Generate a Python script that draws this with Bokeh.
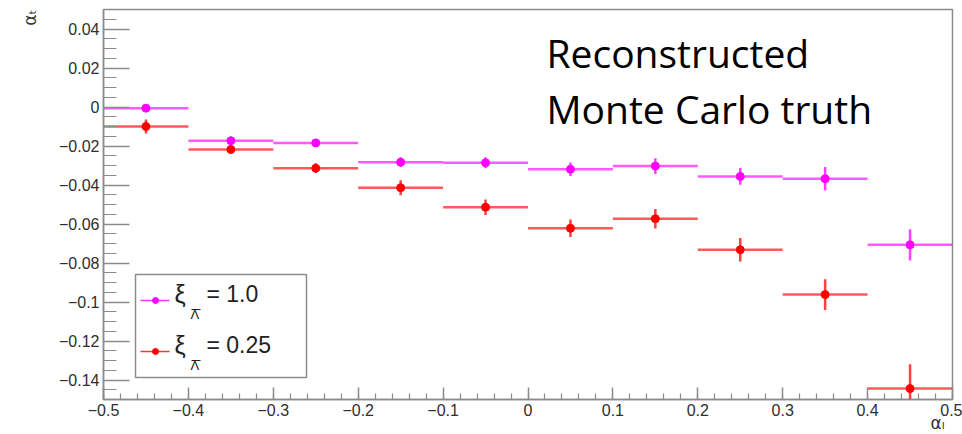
from bokeh.plotting import figure
from bokeh.models import Label, FixedTicker, Range1d, Title
from bokeh.embed import file_html
from bokeh.resources import INLINE

# ---------------- data ----------------
alpha_L = [-0.45, -0.35, -0.25, -0.15, -0.05, 0.05, 0.15, 0.25, 0.35, 0.45]
bin_half_width = 0.05

xi_1p0 = [-0.0006, -0.0173, -0.0184, -0.0283, -0.0286, -0.0319, -0.0303, -0.0356, -0.0368, -0.0707]
xi_1p0_err = [0.0015, 0.0020, 0.0020, 0.0025, 0.0028, 0.0035, 0.0040, 0.0043, 0.0060, 0.0080]

xi_0p25 = [-0.0100, -0.0218, -0.0314, -0.0414, -0.0514, -0.0622, -0.0573, -0.0732, -0.0962, -0.1444]
xi_0p25_err = [0.0036, 0.0020, 0.0025, 0.0039, 0.0040, 0.0045, 0.0050, 0.0060, 0.0079, 0.0125]

x_tick_values = [-0.5, -0.4, -0.3, -0.2, -0.1, 0.0, 0.1, 0.2, 0.3, 0.4, 0.5]
x_tick_labels = ["\u22120.5", "\u22120.4", "\u22120.3", "\u22120.2", "\u22120.1", "0",
                 "0.1", "0.2", "0.3", "0.4", "0.5"]
y_tick_values = [0.04, 0.02, 0.0, -0.02, -0.04, -0.06, -0.08, -0.1, -0.12, -0.14]
y_tick_labels = ["0.04", "0.02", "0", "\u22120.02", "\u22120.04", "\u22120.06", "\u22120.08",
                 "\u22120.1", "\u22120.12", "\u22120.14"]

series_labels = ["= 1.0", "= 0.25"]
series_colors = ["#ff00ff", "#ff0000"]

X0, X1 = -0.5, 0.5
Y0, Y1 = -0.15, 0.05

# ---------------- layout (pixels) ----------------
W, H = 962, 434
FL, FR, FT, FB = 103, 952, 9, 399  # frame edges in pixels


def px2x(px):
    return X0 + (px - FL) / (FR - FL) * (X1 - X0)


def py2y(py):
    return Y1 - (py - FT) / (FB - FT) * (Y1 - Y0)


def base(py, fs):
    # empirical correction so that py is the visual baseline
    return py2y(py - 0.4 * fs)


p = figure(width=W, height=H, x_range=Range1d(X0, X1), y_range=Range1d(Y0, Y1),
           output_backend="svg", toolbar_location=None,
           min_border_left=FL, min_border_right=W - FR, min_border_top=FT,
           min_border_bottom=H - FB)
p.background_fill_color = "white"
p.border_fill_color = "white"
p.outline_line_color = "#8c8c8c"
p.outline_line_width = 1.5
p.xgrid.visible = False
p.ygrid.visible = False

x_minor = [round(-0.5 + 0.02 * i, 4) for i in range(51)]
y_minor = [round(-0.15 + 0.005 * i, 4) for i in range(41)]

p.xaxis.ticker = FixedTicker(ticks=x_tick_values, minor_ticks=x_minor)
p.yaxis.ticker = FixedTicker(ticks=y_tick_values, minor_ticks=y_minor)
p.xaxis.major_label_overrides = dict(zip(x_tick_values, x_tick_labels))
p.yaxis.major_label_overrides = dict(zip(y_tick_values, y_tick_labels))

for ax in (p.xaxis, p.yaxis):
    ax.axis_line_color = "#8c8c8c"
    ax.axis_line_width = 1.5
    ax.major_tick_line_color = "#8c8c8c"
    ax.minor_tick_line_color = "#8c8c8c"
    ax.major_tick_line_width = 1.5
    ax.minor_tick_line_width = 1.2
    ax.major_tick_out = 0
    ax.minor_tick_out = 0
    ax.major_label_text_font = "Liberation Sans"
    ax.major_label_text_font_size = "16px"
    ax.major_label_text_color = "#2e2e2e"
    ax.major_label_text_font_style = "normal"

p.yaxis.major_tick_in = 26
p.yaxis.minor_tick_in = 13
p.yaxis.major_label_standoff = 4
p.xaxis.major_tick_in = 12
p.xaxis.minor_tick_in = 6
p.xaxis.major_label_standoff = 4

# axis titles (ROOT style: at the far end of each axis)
p.add_layout(Title(text="\u03b1\u209c", align="right", text_font="DejaVu Sans",
                   text_font_size="17px", text_font_style="normal", text_color="#333333",
                   standoff=33, offset=0), "left")
p.add_layout(Title(text="\u03b1\u2097", align="right", text_font="DejaVu Sans",
                   text_font_size="17px", text_font_style="normal", text_color="#333333",
                   standoff=-15, offset=8), "below")

# ---------------- data glyphs ----------------
x_lo = [x - bin_half_width for x in alpha_L]
x_hi = [x + bin_half_width for x in alpha_L]

for vals, errs, col in ((xi_1p0, xi_1p0_err, series_colors[0]),
                        (xi_0p25, xi_0p25_err, series_colors[1])):
    p.segment(x0=x_lo, y0=vals, x1=x_hi, y1=vals, line_color=col, line_width=2.5, line_alpha=0.65)
    p.segment(x0=alpha_L, y0=[v - e for v, e in zip(vals, errs)],
              x1=alpha_L, y1=[v + e for v, e in zip(vals, errs)],
              line_color=col, line_width=2.5, line_alpha=0.75)
    p.scatter(x=alpha_L, y=vals, size=8, marker="circle", fill_color=col, line_color=col)

# ---------------- legend ----------------
p.quad(left=[px2x(135)], right=[px2x(306)], top=[py2y(274)], bottom=[py2y(377)],
       fill_color="white", line_color="#8c8c8c", line_width=1.5)

for i, (lab, col) in enumerate(zip(series_labels, series_colors)):
    ly = 300 + i * 51
    p.line([px2x(140), px2x(169)], [py2y(ly), py2y(ly)], line_color=col, line_width=1.5, line_alpha=0.8)
    p.scatter([px2x(155)], [py2y(ly)], size=6, marker="circle", fill_color=col, line_color=col)
    p.add_layout(Label(x=px2x(174), y=base(ly + 3, 25), text="\u03be", text_font="Liberation Sans",
                       text_font_size="25px", text_color="#222222", text_baseline="alphabetic"))
    p.add_layout(Label(x=px2x(190), y=base(ly + 19, 13), text="\u039b", text_font="Liberation Sans",
                       text_font_size="13px", text_color="#222222", text_baseline="alphabetic"))
    p.segment(x0=[px2x(191)], y0=[py2y(ly + 9)], x1=[px2x(200)], y1=[py2y(ly + 9)],
              line_color="#222222", line_width=1.2)
    p.add_layout(Label(x=px2x(206), y=base(ly + 3, 23), text=lab, text_font="Liberation Sans",
                       text_font_size="23px", text_color="#222222", text_baseline="alphabetic"))

# ---------------- overlay text ----------------
p.add_layout(Label(x=px2x(546), y=base(68, 39), text="Reconstructed", text_font="Open Sans",
                   text_font_size="39px", text_color="black", text_baseline="alphabetic"))
p.add_layout(Label(x=px2x(546), y=base(124, 39), text="Monte Carlo truth", text_font="Open Sans",
                   text_font_size="39px", text_color="black", text_baseline="alphabetic"))

open("out.html", "w").write(file_html(p, INLINE))
